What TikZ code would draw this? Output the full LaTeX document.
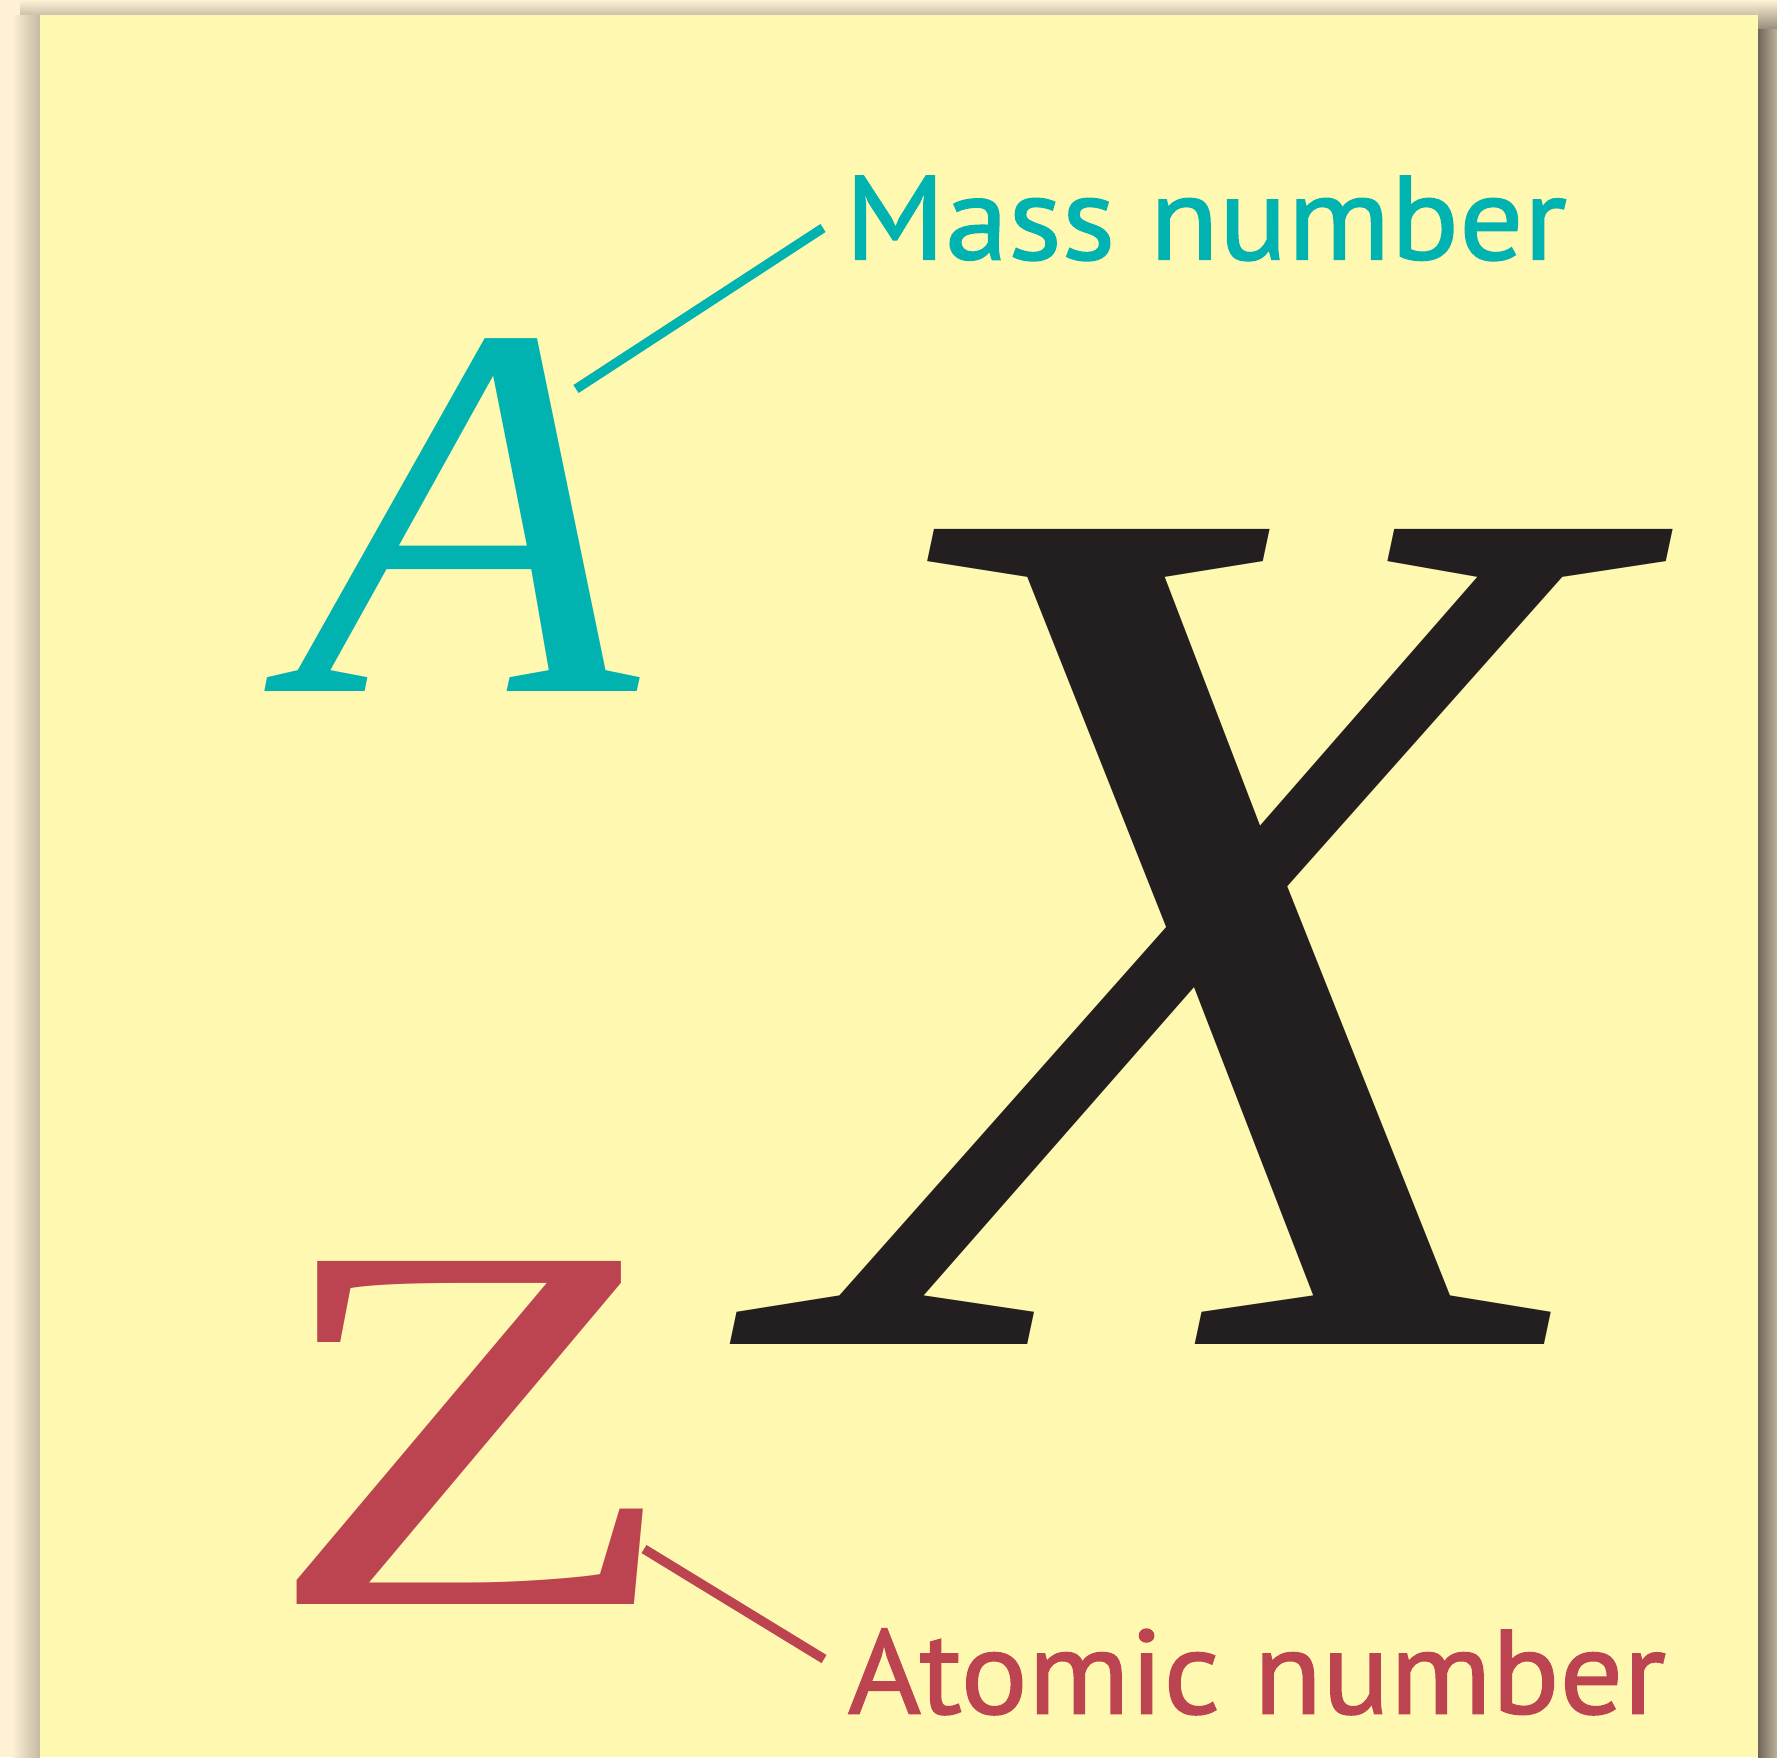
\documentclass[tikz,border=0pt]{standalone}
\usepackage{fontspec}
\setmainfont{Liberation Serif}
\newfontfamily\labelfont{PT Sans}[FakeBold=1.2]
\usetikzlibrary{positioning, calc}
\definecolor{cpage}{HTML}{FFF1D6}
\definecolor{cpanel}{HTML}{FFF8B0}
\definecolor{cteal}{HTML}{00B2B0}
\definecolor{cred}{HTML}{BC4450}
\definecolor{cink}{HTML}{231F20}
\definecolor{cshade}{HTML}{6E6658}
\tikzset{
  glyph/.style={text=#1, inner sep=0pt, anchor=base},
  glyph/.default=cink,
  tag/.style={text=#1, inner sep=0pt, anchor=base west, font=\labelfont\fontsize{34pt}{34pt}\selectfont},
  lead/.style={draw=#1, line width=2.7pt},
}
\begin{document}
\begin{tikzpicture}[x=0.01cm, y=-0.01cm]
  \useasboundingbox (0,0) rectangle (1777,1757);
  % page and the sheet with its shadow
  \fill[cpage] (0,0) rectangle (1777,1757);
  \shade[top color=cpage, bottom color=cshade!35!cpage] (20,0) rectangle (1758,15);
  \shade[left color=cpage, right color=cshade!40!cpage] (12,15) rectangle (40,1757);
  \shade[left color=cshade, right color=cshade!45!cpage] (1758,28) rectangle (1777,1757);
  \shade[top color=cpage, bottom color=cshade!70!cpage] (1758,0) rectangle (1777,28);
  \fill[cpanel] (40,15) rectangle (1758,1757);
  % symbol
  \node[glyph=cteal, font=\fontsize{152pt}{152pt}\selectfont\itshape] (massA) at (467,691) {\scalebox{1.05}[1]{A}};
  \node[glyph, font=\fontsize{354pt}{354pt}\selectfont\itshape] (elemX) at (1202,1344) {\scalebox{1.12}[1]{X}};
  \node[glyph=cred, font=\fontsize{149pt}{149pt}\selectfont] (atomZ) at (473,1604) {\scalebox{1.3}[1]{Z}};
  % labels
  \node[tag=cteal] (masslabel) at (844,259.5) {\scalebox{1.063}[1]{Mass number}};
  \node[tag=cred] (atomlabel) at (847,1713.6) {\scalebox{1.05}[1]{Atomic number}};
  % leader lines
  \coordinate (massA-end) at (576,389);
  \coordinate (masslabel-end) at (823,228);
  \coordinate (atomZ-end) at (644,1549);
  \coordinate (atomlabel-end) at (824,1659);
  \draw[lead=cteal] (massA-end) -- (masslabel-end);
  \draw[lead=cred] (atomZ-end) -- (atomlabel-end);
\end{tikzpicture}
\end{document}
